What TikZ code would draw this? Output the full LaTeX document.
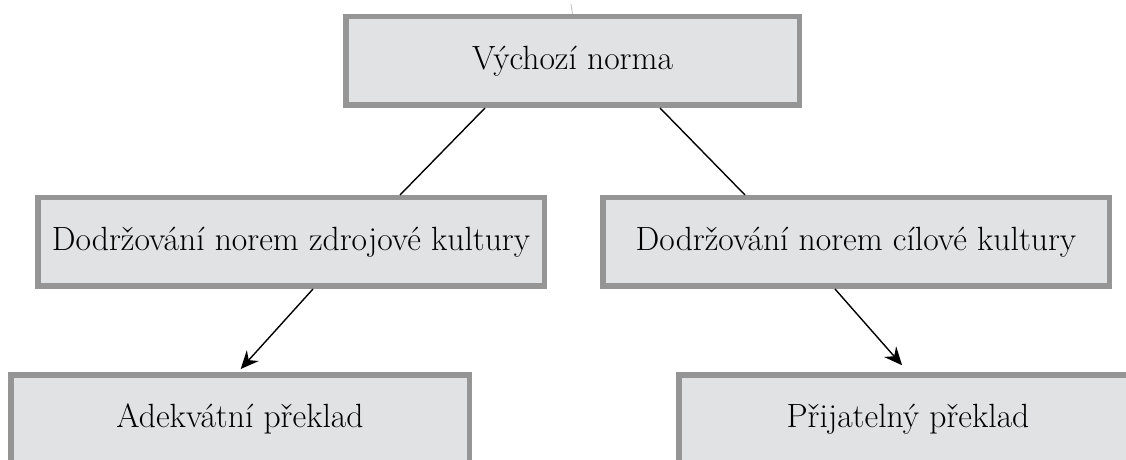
\documentclass[tikz,border=0pt]{standalone}
\usepackage{tikz}
\usetikzlibrary{arrows.meta,positioning}
\definecolor{boxfill}{HTML}{E1E2E4}
\definecolor{boxline}{HTML}{959595}

\begin{document}
\begin{tikzpicture}[
  x=0.5pt, y=-0.5pt,
  box/.style={draw=boxline, line width=2.75pt, fill=boxfill, align=center, minimum height=44.25pt, font=\fontsize{16.8}{20}\selectfont},
  link/.style={line width=0.7pt},
  arrow/.style={-{Stealth[length=9pt, width=8pt, inset=3pt]}, line width=0.7pt},
  stub/.style={draw=gray!50, line width=0.4pt}
]
\useasboundingbox (0,0) rectangle (1126,460);
\clip (0,0) rectangle (1126,460);

\node[box, minimum width=226.75pt] (norm) at (572.5,61) {Výchozí norma};
\node[box, minimum width=253.25pt] (source) at (291,242) {Dodržování norem zdrojové kultury};
\node[box, minimum width=253.25pt] (target) at (856,242) {Dodržování norem cílové kultury};
\node[box, minimum width=229.25pt] (adequate) at (240,419) {Adekvátní překlad};
\node[box, minimum width=229.25pt] (acceptable) at (908,419) {Přijatelný překlad};
\coordinate (tick) at (571,4);

\draw[stub] (tick) -- (norm.north);
\draw[link] ([xshift=-43.75pt]norm.south) -- ([xshift=54.5pt]source.north);
\draw[link] ([xshift=43.75pt]norm.south) -- ([xshift=-55.5pt]target.north);
\draw[arrow, shorten >=2pt] ([xshift=11pt]source.south) -- ([xshift=-1pt]adequate.north);
\draw[arrow, shorten >=4.5pt] ([xshift=-10.5pt]target.south) -- (acceptable.north);
\end{tikzpicture}
\end{document}
